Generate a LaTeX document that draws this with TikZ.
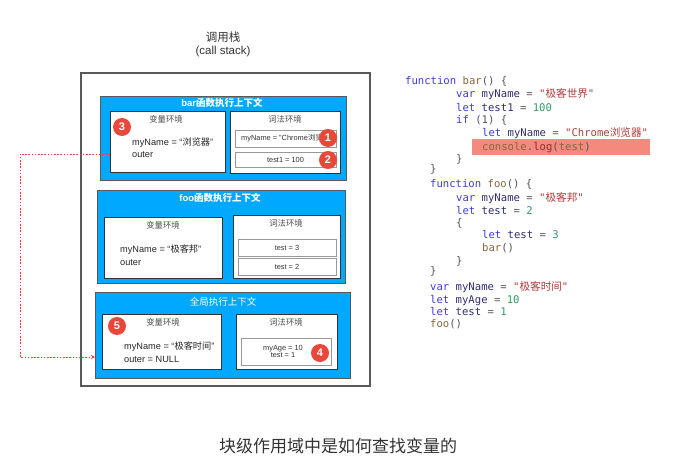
\documentclass[tikz,border=0pt]{standalone}
\usepackage{fontspec}
\setmainfont{Liberation Sans}
\newfontfamily\cjk{Noto Sans CJK SC}
\newfontfamily\codefont{DejaVu Sans Mono}
\usetikzlibrary{arrows.meta}
\definecolor{ctxblue}{HTML}{00A8FF}
\definecolor{badgered}{HTML}{E8483A}
\definecolor{hlred}{HTML}{F48A7E}
\definecolor{kwblue}{HTML}{3C3CD2}
\definecolor{idnavy}{HTML}{2E2E6E}
\definecolor{fnbrown}{HTML}{86663C}
\definecolor{strred}{HTML}{B03A3A}
\definecolor{numgreen}{HTML}{339966}
\definecolor{opgray}{HTML}{555555}
\definecolor{arrred}{HTML}{F03C3C}
\newcommand\ckw[1]{\textcolor{kwblue}{#1}}
\newcommand\cid[1]{\textcolor{idnavy}{#1}}
\newcommand\cfn[1]{\textcolor{fnbrown}{#1}}
\newcommand\cstr[1]{\textcolor{strred}{#1}}
\newcommand\cnm[1]{\textcolor{numgreen}{#1}}
\newcommand\cop[1]{\textcolor{opgray}{#1}}
\begin{document}
\begin{tikzpicture}[x=1pt,y=-1pt,
  stackbox/.style={draw=black!65, line width=1.3pt, anchor=north west, inner sep=0, outer sep=0},
  ctxbox/.style={draw=black!65, fill=ctxblue, line width=0.8pt, anchor=north west, inner sep=0, outer sep=0},
  envbox/.style={draw=black!80, fill=white, line width=0.8pt, anchor=north west, inner sep=0, outer sep=0},
  itembox/.style={draw=black!40, fill=white, line width=0.6pt, anchor=north west, inner sep=0, outer sep=0},
  badge/.style={circle, fill=badgered, text=white, font=\bfseries\fontsize{11}{11}\selectfont, minimum size=18pt, inner sep=0},
  ctxtitle/.style={text=white, font=\cjk\fontsize{9.5}{10}\selectfont, inner sep=0},
  envtitle/.style={text=black!70, font=\cjk\fontsize{8.3}{9}\selectfont, inner sep=0},
  vartext/.style={anchor=base west, font=\fontsize{9.2}{10}\selectfont, text=black!85, inner sep=0},
  itemtext/.style={font=\fontsize{7.4}{8.5}\selectfont, text=black!80, inner sep=0},
  codeline/.style={anchor=base west, font=\codefont\fontsize{10.6}{12}\selectfont, inner sep=0},
  refline/.style={draw=arrred, line width=0.8pt, dash pattern=on 1.6pt off 1.6pt, -{Stealth[length=4pt,width=4pt]}}
]
\useasboundingbox (0,0) rectangle (682,462);

% title
\node[font=\cjk\fontsize{11.5}{12}\selectfont, text=black!80] (stacktitle) at (223,37) {调用栈};
\node[font=\fontsize{11.5}{12}\selectfont, text=black!80] (stacksub) at (223,52) {(call stack)};

% call stack frame
\node[stackbox, minimum width=289pt, minimum height=313pt] (stack) at (81,73) {};

% bar context
\node[ctxbox, minimum width=246pt, minimum height=84pt] (barctx) at (100,96) {};
\node[ctxtitle] (bartitle) at (222,103) {\fontspec{Liberation Sans}\bfseries bar\cjk 函数执行上下文};
\node[envbox, minimum width=115pt, minimum height=61pt] (barvar) at (110,111) {};
\node[envtitle] (barvart) at (166,119) {变量环境};
\node[vartext] (barname) at (132,146) {myName = “{\cjk 浏览器}”};
\node[vartext] (barouter) at (132,157.5) {outer};
\node[envbox, minimum width=110pt, minimum height=62pt] (barlex) at (230,111) {};
\node[envtitle] (barlext) at (285,119) {词法环境};
\node[itembox, minimum width=101pt, minimum height=17pt] (barl1) at (235,130) {};
\node[itemtext, anchor=west] (barl1t) at (241,138.5) {myName = "Chrome{\cjk 浏览器}"};
\node[itembox, minimum width=101pt, minimum height=15pt] (barl2) at (235,152) {};
\node[itemtext] (barl2t) at (barl2.center) {test1 = 100};
\node[badge] (b3) at (122,127) {3};
\node[badge] (b1) at (328,138) {1};
\node[badge] (b2) at (328,160) {2};

% foo context
\node[ctxbox, minimum width=248pt, minimum height=93pt] (fooctx) at (97,190) {};
\node[ctxtitle] (footitle) at (220,198) {\fontspec{Liberation Sans}\bfseries foo\cjk 函数执行上下文};
\node[envbox, minimum width=118pt, minimum height=61pt] (foovar) at (104,217) {};
\node[envtitle] (foovart) at (163,225) {变量环境};
\node[vartext] (fooname) at (120,253) {myName = “{\cjk 极客邦}”};
\node[vartext] (fooouter) at (120,265.5) {outer};
\node[envbox, minimum width=107pt, minimum height=63pt] (foolex) at (233,215) {};
\node[envtitle] (foolext) at (286,223) {词法环境};
\node[itembox, minimum width=98pt, minimum height=17pt] (fool1) at (238,239) {};
\node[itemtext] (fool1t) at (fool1.center) {test = 3};
\node[itembox, minimum width=98pt, minimum height=17pt] (fool2) at (238,258) {};
\node[itemtext] (fool2t) at (fool2.center) {test = 2};

% global context
\node[ctxbox, minimum width=255pt, minimum height=86pt] (globctx) at (95,292) {};
\node[ctxtitle] (globtitle) at (223,302) {全局执行上下文};
\node[envbox, minimum width=119pt, minimum height=55pt] (globvar) at (102,314) {};
\node[envtitle] (globvart) at (163,322) {变量环境};
\node[vartext] (globname) at (124,349) {myName = “{\cjk 极客时间}”};
\node[vartext] (globouter) at (124,362) {outer = NULL};
\node[envbox, minimum width=101pt, minimum height=55pt] (globlex) at (236,314) {};
\node[envtitle] (globlext) at (286,322) {词法环境};
\node[itembox, minimum width=90pt, minimum height=27pt] (globl1) at (241,338) {};
\node[itemtext, align=center] (globl1t) at (283,351.5) {myAge = 10\\[-1.5pt]test = 1};
\node[badge] (b5) at (117,326) {5};
\node[badge] (b4) at (320,353) {4};

% reference arrow
\coordinate (arrS) at (barvar.west |- 0,154);
\coordinate (arrE) at (globctx.west |- 0,357);
\draw[refline] (arrS) -- ++(-90,0) |- (arrE);

% code
\fill[hlred] (472,139) rectangle (650,155);
\node[codeline] (c1) at (405,84.5) {\ckw{function} \cfn{bar}\cop{() \{}};
\node[codeline] (c2) at (456,98) {\ckw{var} \cid{myName} \cop{=} \cstr{"{\cjk 极客世界}"}};
\node[codeline] (c3) at (456,111.5) {\ckw{let} \cid{test1} \cop{=} \cnm{100}};
\node[codeline] (c4) at (456,124) {\ckw{if} \cop{(1) \{}};
\node[codeline] (c5) at (482,137) {\ckw{let} \cid{myName} \cop{=} \cstr{"Chrome{\cjk 浏览器}"}};
\node[codeline] (c6) at (482,151) {\cfn{console}\cop{.}\textcolor{strred!80!black}{log}\cop{(}\cfn{test}\cop{)}};
\node[codeline] (c7) at (456,163) {\cop{\}}};
\node[codeline] (c8) at (430,173) {\cop{\}}};
\node[codeline] (c9) at (430,187.5) {\ckw{function} \cfn{foo}\cop{() \{}};
\node[codeline] (c10) at (456,201.5) {\ckw{var} \cid{myName} \cop{=} \cstr{"{\cjk 极客邦}"}};
\node[codeline] (c11) at (456,215) {\ckw{let} \cid{test} \cop{=} \cnm{2}};
\node[codeline] (c12) at (456,227) {\cop{\{}};
\node[codeline] (c13) at (482,239) {\ckw{let} \cid{test} \cop{=} \cnm{3}};
\node[codeline] (c14) at (482,251.5) {\cfn{bar}\cop{()}};
\node[codeline] (c15) at (456,264) {\cop{\}}};
\node[codeline] (c16) at (430,274.5) {\cop{\}}};
\node[codeline] (c17) at (430,290) {\ckw{var} \cid{myName} \cop{=} \cstr{"{\cjk 极客时间}"}};
\node[codeline] (c18) at (430,303) {\ckw{let} \cid{myAge} \cop{=} \cnm{10}};
\node[codeline] (c19) at (430,315) {\ckw{let} \cid{test} \cop{=} \cnm{1}};
\node[codeline] (c20) at (430,327) {\cfn{foo}\cop{()}};

% caption
\node[font=\cjk\fontsize{17}{18}\selectfont, text=black!80] (caption) at (338,446) {块级作用域中是如何查找变量的};
\end{tikzpicture}
\end{document}
